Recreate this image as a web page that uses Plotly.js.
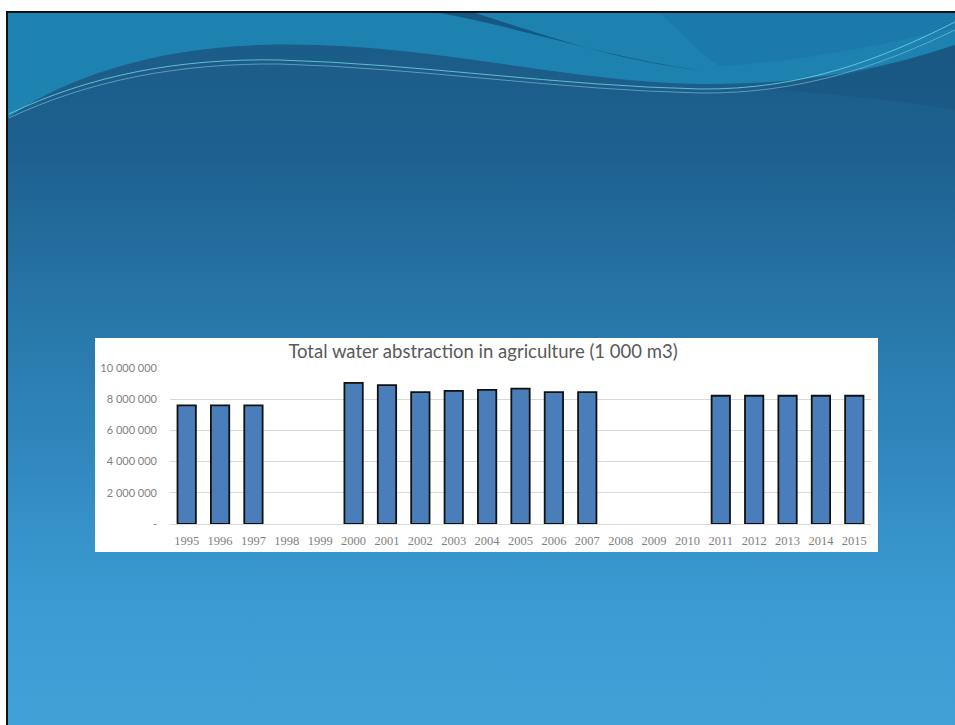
<!DOCTYPE html>
<html>
<head>
<meta charset="utf-8">
<script src="https://cdn.plot.ly/plotly-3.0.1.min.js"></script>
<style>
  html, body { margin:0; padding:0; background:#ffffff; }
  #slide { position:absolute; left:6px; top:11px; width:949px; height:714px;
    border-left:2px solid #111; border-top:2px solid #111; box-sizing:border-box;
    background: linear-gradient(180deg, #1b5a85 0%, #1d6190 20%, #2673a4 38%, #2f86bb 60%, #3a99d0 80%, #41a2d8 100%); }
  #chart { position:absolute; left:0; top:0; width:955px; height:725px; }
</style>
</head>
<body>
<div id="slide"></div>
<div id="chart"></div>
<script>
const years = ['1995','1996','1997','1998','1999','2000','2001','2002','2003','2004','2005','2006','2007','2008','2009','2010','2011','2012','2013','2014','2015'];
const abstraction = [7600000, 7600000, 7600000, null, null, 9050000, 8900000, 8450000, 8530000, 8600000, 8680000, 8450000, 8450000, null, null, null, 8220000, 8220000, 8220000, 8220000, 8220000];
const yTickVals = [0, 2000000, 4000000, 6000000, 8000000, 10000000];
const yTickText = ['-', '2 000 000', '4 000 000', '6 000 000', '8 000 000', '10 000 000'];
const chartTitle = 'Total water abstraction in agriculture (1 000 m3)';

// plot area in pixels
const PL = 170, PR = 871, PT = 368, PB = 524;
const W = 955, H = 725;
function px(x){ return ((x - PL) / (PR - PL)).toFixed(4); }
function py(y){ return ((PB - y) / (PB - PT)).toFixed(4); }
function path(cmds){
  return cmds.map(c => {
    const k = c[0]; const pts = [];
    for (let i = 1; i < c.length; i += 2) pts.push(px(c[i]) + ',' + py(c[i+1]));
    return k + pts.join(' ');
  }).join(' ');
}
function pshape(cmds, fill, line, lw){
  return { type:'path', xref:'paper', yref:'paper', layer:'below',
    path: path(cmds), fillcolor: fill || 'rgba(0,0,0,0)',
    line: { color: line || 'rgba(0,0,0,0)', width: lw || 0 } };
}

const shapes = [
  // light teal top region
  pshape([['M',8,13],['L',955,13],['L',955,45],
          ['C',880,70, 800,85, 700,84],
          ['C',560,82, 420,40, 262,45],
          ['C',150,48, 60,80, 8,118],['Z']], 'rgba(30,140,185,0.8)'),
  // upper-right medium blue
  pshape([['M',660,13],['L',955,13],['L',955,28],
          ['C',880,45, 800,62, 720,66],
          ['C',700,55, 680,30, 660,13],['Z']], 'rgba(25,115,170,0.55)'),
  // dark crescent
  pshape([['M',440,13],['C',530,30, 610,58, 700,70],
          ['C',620,62, 545,35, 475,13],['Z']], 'rgba(22,80,125,0.85)'),
  // subtle darkening under right part of wave
  pshape([['M',955,45],['L',955,110],
          ['C',900,100, 840,95, 760,88],
          ['C',830,82, 900,64, 955,45],['Z']], 'rgba(22,80,120,0.35)'),
  // thin bright lines
  pshape([['M',9,114],['C',90,75, 180,58, 280,60],['C',420,64, 560,86, 700,89],['C',800,90, 880,60, 955,22]], null, 'rgba(120,220,230,0.75)', 1),
  pshape([['M',9,118],['C',90,80, 180,63, 280,64],['C',420,68, 560,90, 700,93],['C',800,94, 880,66, 955,30]], null, 'rgba(150,200,230,0.55)', 1),
  // white chart box
  { type:'rect', xref:'paper', yref:'paper', layer:'below',
    x0: px(95), x1: px(878), y0: py(552), y1: py(338),
    fillcolor:'#ffffff', line:{width:0} }
];

const trace = {
  type:'bar', x: years, y: abstraction,
  marker: { color:'#4a7ebb', line:{ color:'#111111', width:1.8 } },
  hoverinfo:'none'
};

const layout = {
  width: W, height: H,
  margin: { l: PL, r: W - PR, t: PT, b: H - PB, pad: 0 },
  paper_bgcolor: 'rgba(0,0,0,0)',
  plot_bgcolor: 'rgba(0,0,0,0)',
  showlegend: false,
  bargap: 0.45,
  title: { text: chartTitle, xref:'container', yref:'container', x: 483/W, y: 1 - 352/H,
    xanchor:'center', yanchor:'middle',
    font: { family:'Lato, "Open Sans", sans-serif', size:18.5, color:'#595959' } },
  xaxis: { type:'category', tickfont:{ family:'"Liberation Serif", serif', size:12.5, color:'#7f7f7f' },
    showgrid:false, zeroline:false, showline:true, linecolor:'#d9d9d9', linewidth:1,
    ticks:'', ticklabelstandoff: 5, fixedrange:true },
  yaxis: { range:[0, 10000000], tickvals: yTickVals, ticktext: yTickText,
    tickfont:{ family:'Lato, "Open Sans", sans-serif', size:11, color:'#7f7f7f' },
    showgrid:true, gridcolor:'#d9d9d9', gridwidth:1, zeroline:false,
    ticks:'', ticklabelstandoff: 12, fixedrange:true },
  shapes: shapes
};

Plotly.newPlot('chart', [trace], layout, { staticPlot:true, displayModeBar:false });
</script>
</body>
</html>
